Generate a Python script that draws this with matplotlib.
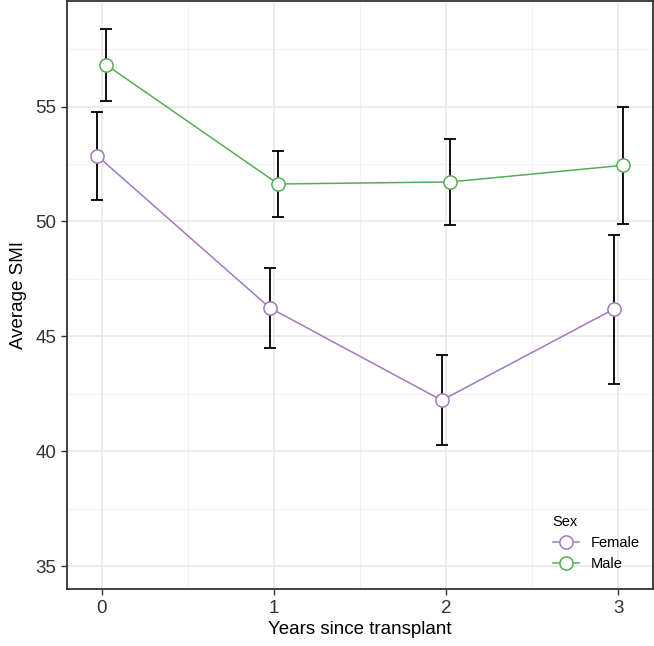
import matplotlib
matplotlib.use('Agg')
import matplotlib.pyplot as plt
import numpy as np

plt.rcParams['font.family'] = ['Liberation Sans', 'DejaVu Sans']

years = [0, 1, 2, 3]
female_mean = [52.85, 46.25, 42.22, 46.19]
female_err = [1.92, 1.74, 1.96, 3.24]
male_mean = [56.82, 51.63, 51.72, 52.44]
male_err = [1.57, 1.43, 1.87, 2.53]
series = [('Female', female_mean, female_err, '#A07BBF', -0.025),
          ('Male', male_mean, male_err, '#55AE55', 0.025)]

fig = plt.figure(figsize=(6.54, 6.46), dpi=100)
ax = fig.add_axes([0.102, 0.0878, 0.896, 0.911])

for name, mean, err, col, dx in series:
    xs = np.array(years) + dx
    ax.errorbar(xs, mean, yerr=err, fmt='none', ecolor='black', elinewidth=1.3,
                capsize=4.2, capthick=1.3, zorder=3)
    ax.plot(xs, mean, '-', color=col, lw=1.1, marker='o', markersize=9.5,
            markerfacecolor='white', markeredgecolor=col, markeredgewidth=1.1,
            label=name, zorder=4)

ax.set_xlim(-0.203, 3.2)
ax.set_ylim(34.0, 59.6)
ax.set_xticks(years)
ax.set_yticks([35, 40, 45, 50, 55])
ax.set_xticks([0.5, 1.5, 2.5], minor=True)
ax.set_yticks([37.5, 42.5, 47.5, 52.5, 57.5], minor=True)
ax.grid(which='major', color='#EBEBEB', lw=1.3)
ax.grid(which='minor', color='#F2F2F2', lw=0.8)
ax.set_axisbelow(True)
ax.tick_params(which='major', labelsize=13.5, labelcolor='#333333', color='#333333',
               length=4, width=1)
ax.tick_params(which='minor', length=0)
for s in ax.spines.values():
    s.set_color('#333333')
    s.set_linewidth(1.3)

ax.set_xlabel('Years since transplant', fontsize=13.5, labelpad=3)
ax.set_ylabel('Average SMI', fontsize=13.5, labelpad=6)

leg = ax.legend(title='Sex', loc='lower right', frameon=False, fontsize=10.5,
                title_fontsize=10.5, bbox_to_anchor=(1.0, 0.008), handlelength=1.8)
leg._legend_box.align = 'left'

fig.savefig('out.png', dpi=100)
